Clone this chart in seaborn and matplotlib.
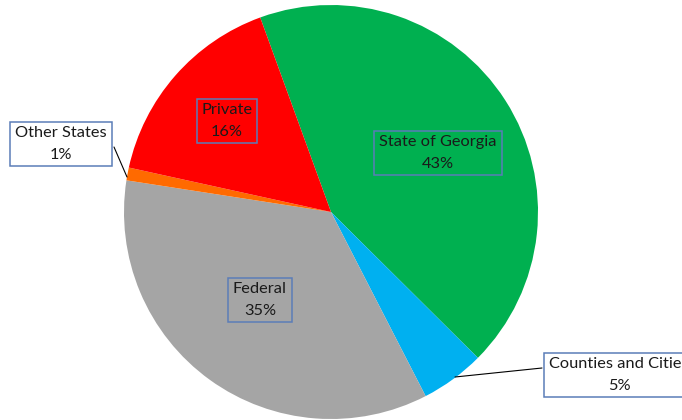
import matplotlib
matplotlib.use("Agg")
import matplotlib.pyplot as plt
import seaborn as sns

# funding sources, in the clockwise order they appear on the pie
sources = ["State of Georgia", "Counties and Cities", "Federal", "Other States", "Private"]
shares = [43, 5, 35, 1, 16]
colors = ["#00B050", "#00B0F0", "#A5A5A5", "#FF6A00", "#FF0000"]

sns.set_theme(style="white")
plt.rcParams["font.family"] = ["Lato", "DejaVu Sans"]

W, H = 682, 420
fig = plt.figure(figsize=(W / 100, H / 100), dpi=100)
ax = fig.add_axes([0, 0, 1, 1])

cx, cy, r = 331, H - 212, 207
ax.pie(shares, colors=colors, startangle=110, counterclock=False,
       center=(cx, cy), radius=r, wedgeprops=dict(linewidth=0),
       frame=True)
ax.set_xlim(0, W)
ax.set_ylim(0, H)
ax.set_aspect("equal")
ax.axis("off")

# label positions (pixel coords, y from top), inside or outside the pie
label_pos = {
    "State of Georgia": (438, 153, False),
    "Counties and Cities": (619, 375, True),
    "Federal": (260, 300, False),
    "Other States": (61, 144, True),
    "Private": (227, 121, False),
}
leaders = {
    "Counties and Cities": ((542, 368), (455, 377)),
    "Other States": ((114, 147), (127, 177)),
}

total = sum(shares)
for name, val in zip(sources, shares):
    x, y, outside = label_pos[name]
    if name in leaders:
        (x0, y0), (x1, y1) = leaders[name]
        ax.plot([x0, x1], [H - y0, H - y1], color="black", lw=0.8, zorder=3)
    ax.text(x, H - y, f"{name}\n{round(100 * val / total)}%",
            ha="center", va="center", fontsize=11.8, color="#1a1a1a",
            linespacing=1.65, zorder=4,
            bbox=dict(boxstyle="square,pad=0.3",
                      facecolor="white" if outside else "none",
                      edgecolor="#5B7DB8", linewidth=1.1))

fig.savefig("out.png", dpi=100)
